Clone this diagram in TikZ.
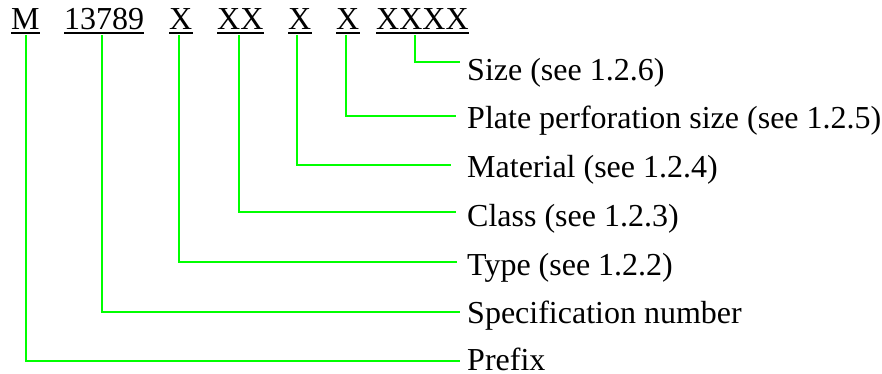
\documentclass[tikz,border=0pt]{standalone}
\usepackage{fontspec}
\setmainfont{Liberation Serif}
\definecolor{leader}{RGB}{0,255,0}
\begin{document}
\begin{tikzpicture}[x=1pt,y=-1pt,
  code/.style={anchor=base west,inner sep=0pt,font=\fontsize{32}{36}\selectfont},
  item/.style={anchor=base west,inner sep=0pt,font=\fontsize{32}{36}\selectfont},
  uline/.style={line width=1.6pt,black},
  conn/.style={line width=1.8pt,leader}]
\useasboundingbox (0,0) rectangle (882,373);

% designation fields
\node[code] (fM)   at (11,29)  {M};
\node[code] (fNum) at (64,29)  {13789};
\node[code] (fTyp) at (169,29) {X};
\node[code] (fCls) at (217,29) {XX};
\node[code] (fMat) at (288,29) {X};
\node[code] (fPlt) at (336,29) {X};
\node[code] (fSiz) at (376,29) {XXXX};
\foreach \f in {fM,fNum,fTyp,fCls,fMat,fPlt,fSiz}
  \draw[uline] ([yshift=-4pt]\f.base west) -- ([yshift=-4pt]\f.base east);

% start points of the leaders below each field
\coordinate (tM)   at (26,35);
\coordinate (tNum) at (102,35);
\coordinate (tTyp) at (179,35);
\coordinate (tCls) at (239,35);
\coordinate (tMat) at (297,35);
\coordinate (tPlt) at (346,35);
\coordinate (tSiz) at (415,35);

% explanations
\node[item] (lSiz) at (467,80)  {Size (see 1.2.6)};
\node[item] (lPlt) at (467,128) {Plate perforation size (see 1.2.5)};
\node[item] (lMat) at (467,177) {Material (see 1.2.4)};
\node[item] (lCls) at (467,226) {Class (see 1.2.3)};
\node[item] (lTyp) at (467,275) {Type (see 1.2.2)};
\node[item] (lNum) at (467,323) {Specification number};
\node[item] (lM)   at (467,370) {Prefix};

% leaders
\draw[conn] (tSiz) |- ([xshift=-7pt,yshift=18pt]lSiz.base west);
\draw[conn] (tPlt) |- ([xshift=-11pt,yshift=12pt]lPlt.base west);
\draw[conn] (tMat) |- ([xshift=-16pt,yshift=12pt]lMat.base west);
\draw[conn] (tCls) |- ([xshift=-11pt,yshift=14pt]lCls.base west);
\draw[conn] (tTyp) |- ([xshift=-10pt,yshift=13pt]lTyp.base west);
\draw[conn] (tNum) |- ([xshift=-7pt,yshift=11pt]lNum.base west);
\draw[conn] (tM)   |- ([xshift=-7pt,yshift=9pt]lM.base west);
\end{tikzpicture}
\end{document}
